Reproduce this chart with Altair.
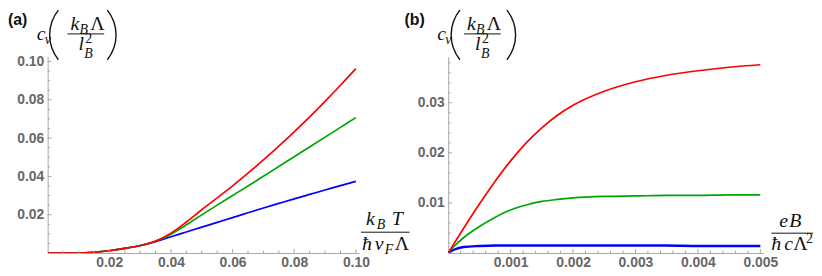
import math
import altair as alt
import pandas as pd

# ---------------- data ----------------
A_X = [0, 0.005, 0.01, 0.015, 0.02, 0.025, 0.03, 0.035, 0.04, 0.045, 0.05,
       0.055, 0.06, 0.065, 0.07, 0.075, 0.08, 0.085, 0.09, 0.095, 0.10]
A_RED = [0, 0, 0.00002, 0.0004, 0.0012, 0.0024, 0.0039, 0.0062, 0.0104, 0.0162, 0.0226,
         0.0288, 0.0351, 0.0417, 0.0486, 0.0558, 0.0633, 0.0711, 0.0792, 0.0876, 0.0963]
A_GREEN = [0, 0, 0.00002, 0.0004, 0.0012, 0.0024, 0.0039, 0.0061, 0.0098, 0.0147, 0.0199,
           0.0250, 0.0300, 0.0350, 0.0401, 0.0452, 0.0503, 0.0554, 0.0605, 0.0656, 0.0707]
A_BLUE = [0, 0, 0.00002, 0.0004, 0.0012, 0.0024, 0.0038, 0.0059, 0.0085, 0.0110, 0.0135,
          0.0160, 0.0185, 0.0210, 0.0235, 0.0259, 0.0283, 0.0306, 0.0329, 0.0352, 0.0374]

B_X = [0, 0.0001, 0.00025, 0.0005, 0.00075, 0.001, 0.00125, 0.0015, 0.00175, 0.002,
       0.0025, 0.003, 0.0035, 0.004, 0.0045, 0.005]
B_RED = [0, 0.0020, 0.0050, 0.0098, 0.0143, 0.0184, 0.0220, 0.0250, 0.0275, 0.0295,
         0.0323, 0.0342, 0.0355, 0.0364, 0.0371, 0.0376]
B_GREEN = [0, 0.0014, 0.0031, 0.0053, 0.0071, 0.0086, 0.0096, 0.0103, 0.0107, 0.0110,
           0.0113, 0.0114, 0.0115, 0.0115, 0.0116, 0.0116]
B_BLUE = [0, 0.0007, 0.0012, 0.0014, 0.0015, 0.0015, 0.0015, 0.0015, 0.0015, 0.0015,
          0.0015, 0.0015, 0.0015, 0.0014, 0.0014, 0.0014]

A_XTICKS = [0.02, 0.04, 0.06, 0.08, 0.10]
A_XMINOR = [0.005, 0.01, 0.015, 0.025, 0.03, 0.035, 0.045, 0.05, 0.055,
            0.065, 0.07, 0.075, 0.085, 0.09, 0.095]
A_YTICKS = [0.02, 0.04, 0.06, 0.08, 0.10]
A_YMINOR = A_XMINOR
B_XTICKS = [0.001, 0.002, 0.003, 0.004, 0.005]
B_XMINOR = [0.0002, 0.0004, 0.0006, 0.0008, 0.0012, 0.0014, 0.0016, 0.0018,
            0.0022, 0.0024, 0.0026, 0.0028, 0.0032, 0.0034, 0.0036, 0.0038,
            0.0042, 0.0044, 0.0046, 0.0048]
B_YTICKS = [0.01, 0.02, 0.03]
B_YMINOR = [0.002, 0.004, 0.006, 0.008, 0.012, 0.014, 0.016, 0.018,
            0.022, 0.024, 0.026, 0.028, 0.032, 0.034, 0.036, 0.038]

SERIES_COLORS = {"red": "#ff0000", "green": "#00a600", "blue": "#0000ff"}

# ---------------- style ----------------
H = 198
W_A, W_B = 314, 318
AXIS_COL = "#a8a8a8"
MATH_FONT = "Liberation Serif"
MS = 20   # math font size
SS = 14   # sub/superscript size
ONE = alt.Data(values=[{"a": 1}])

PAREN_R = 40.0
PAREN_HALF = 25.0
PAREN_ANG = math.asin(PAREN_HALF / PAREN_R)


def glyph(t, x, y, size, italic=False, font=MATH_FONT, weight="normal",
          color="#111111", baseline="alphabetic"):
    return alt.Chart(ONE).mark_text(
        text=t, align="left", baseline=baseline, font=font, fontSize=size,
        fontStyle="italic" if italic else "normal", fontWeight=weight, color=color
    ).encode(x=alt.value(x), y=alt.value(y))


def hbar(x1, x2, y):
    return alt.Chart(ONE).mark_rule(color="#111111", strokeWidth=1).encode(
        x=alt.value(x1), x2=alt.value(x2), y=alt.value(y))


def paren(x_edge, y_mid, left=True):
    # a big delimiter drawn as a thin circular arc
    if left:
        cx = x_edge + PAREN_R
        t1, t2 = 1.5 * math.pi - PAREN_ANG, 1.5 * math.pi + PAREN_ANG
    else:
        cx = x_edge - PAREN_R
        t1, t2 = 0.5 * math.pi - PAREN_ANG, 0.5 * math.pi + PAREN_ANG
    return alt.Chart(ONE).mark_arc(
        radius=PAREN_R + 0.7, radius2=PAREN_R - 0.7, theta=t1, theta2=t2,
        color="#111111"
    ).encode(x=alt.value(cx), y=alt.value(y_mid))


def ylabel(dxl, dxr, dx_frac):
    f = dx_frac
    return [
        glyph("c", -11, -17, MS, italic=True),
        glyph("v", -3, -13, SS, italic=True),
        paren(2 + dxl, -22, left=True),
        glyph("k", 23 + f, -27, MS, italic=True),
        glyph("B", 32 + f, -23, SS, italic=True),
        glyph("Λ", 43 + f, -27, MS),
        hbar(20 + f, 57 + f, -23),
        glyph("l", 31 + f, -7, MS, italic=True),
        glyph("2", 38 + f, -14, SS),
        glyph("B", 37 + f, 1, SS, italic=True),
        paren(69 + dxr, -22, left=False),
    ]


def panel(xs, series, xdom, ydom, width, xt, xm, yt, ym, xfmt, yfmt, blue_w, extras):
    xs_scale = alt.Scale(domain=xdom, nice=False, zero=False)
    ys_scale = alt.Scale(domain=ydom, nice=False, zero=False)
    x_axis = alt.Axis(values=xt, format=xfmt, title=None)
    y_axis = alt.Axis(values=yt, format=yfmt, title=None)
    layers = []
    for name in ["blue", "green", "red"]:
        df = pd.DataFrame({"x": xs, "y": series[name]})
        layers.append(
            alt.Chart(df).mark_line(
                interpolate="monotone", clip=True, color=SERIES_COLORS[name],
                strokeWidth=blue_w if name == "blue" else 1.7
            ).encode(
                x=alt.X("x:Q", scale=xs_scale, axis=x_axis),
                y=alt.Y("y:Q", scale=ys_scale, axis=y_axis),
            )
        )
    for vals, ln in [(xt, 4), (xm, 2.5)]:
        layers.append(
            alt.Chart(pd.DataFrame({"x": vals})).mark_rule(color=AXIS_COL).encode(
                x=alt.X("x:Q", scale=xs_scale, axis=x_axis),
                y=alt.value(H), y2=alt.value(H - ln)))
    for vals, ln in [(yt, 4), (ym, 2.5)]:
        layers.append(
            alt.Chart(pd.DataFrame({"y": vals})).mark_rule(color=AXIS_COL).encode(
                y=alt.Y("y:Q", scale=ys_scale, axis=y_axis),
                x=alt.value(0), x2=alt.value(ln)))
    layers += extras
    return alt.layer(*layers).properties(width=width, height=H)


extras_a = [glyph("(a)", -40, -32, 16, font="Liberation Sans", weight="bold")] + ylabel(0, 0, 0) + [
    glyph("k", 321, 170, MS, italic=True),
    glyph("B", 332, 174, SS, italic=True),
    glyph("T", 347, 170, MS, italic=True),
    hbar(316, 365, 177),
    glyph("ħ", 317, 195, MS, italic=True),
    glyph("v", 330, 195, MS, italic=True),
    glyph("F", 340, 199, SS, italic=True),
    glyph("Λ", 350, 195, MS),
]
extras_b = [glyph("(b)", -44, -32, 16, font="Liberation Sans", weight="bold")] + ylabel(1, -1, -4) + [
    glyph("e", 334, 172, MS, italic=True),
    glyph("B", 344, 172, MS, italic=True),
    hbar(326, 368, 178),
    glyph("ħ", 326, 195, MS, italic=True),
    glyph("c", 339, 195, MS, italic=True),
    glyph("Λ", 348, 195, MS),
    glyph("2", 361, 188, SS),
]

pa = panel(A_X, {"red": A_RED, "green": A_GREEN, "blue": A_BLUE},
           [0, 0.101], [0, 0.1025], W_A, A_XTICKS, A_XMINOR, A_YTICKS, A_YMINOR,
           ".2f", ".2f", 1.7, extras_a)
pb = panel(B_X, {"red": B_RED, "green": B_GREEN, "blue": B_BLUE},
           [0, 0.00505], [0, 0.0392], W_B, B_XTICKS, B_XMINOR, B_YTICKS, B_YMINOR,
           ".3f", ".2f", 2.3, extras_b)

chart = alt.hconcat(pa, pb, spacing=90, bounds="flush").properties(
    padding={"left": 0, "top": 0, "right": 0, "bottom": 0}
).configure_axis(
    domainColor=AXIS_COL, domainWidth=1, ticks=False, tickSize=0, grid=False,
    labelFont="Liberation Sans", labelFontSize=14, labelFontWeight="bold",
    labelColor="#666666"
).configure_axisX(labelPadding=3).configure_axisY(labelPadding=4).configure_view(stroke=None)

chart.save("out.html", embed_options={"renderer": "svg", "actions": False})
